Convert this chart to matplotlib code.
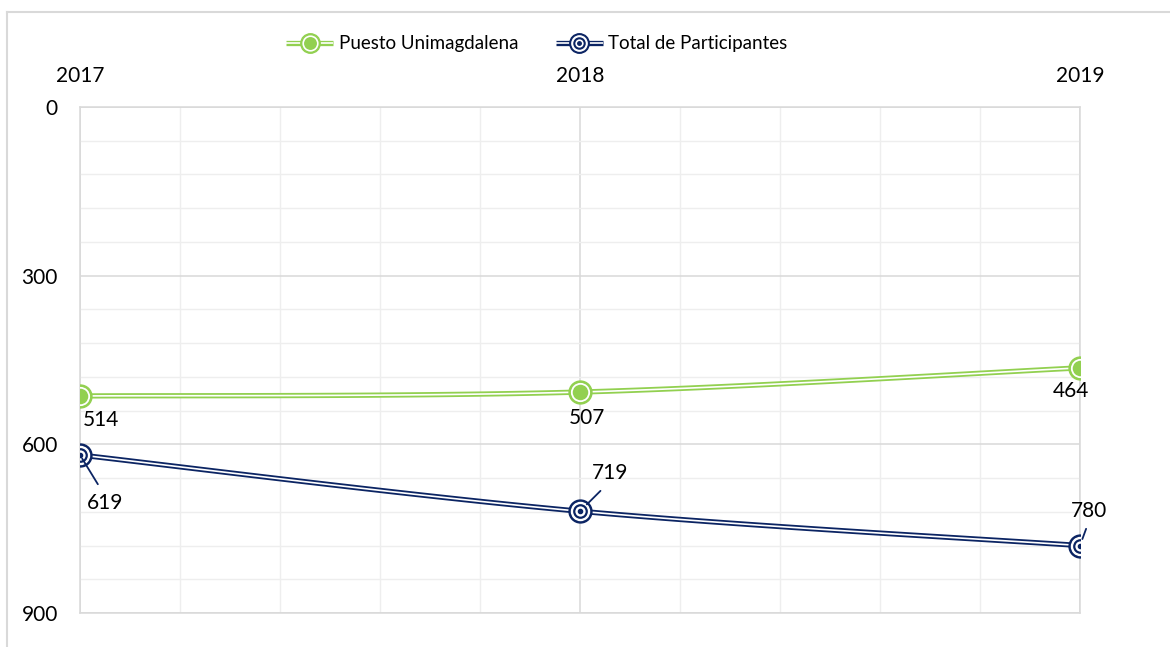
import numpy as np
import matplotlib
matplotlib.use('Agg')
import matplotlib.pyplot as plt
from matplotlib.lines import Line2D
from matplotlib.ticker import MultipleLocator
from matplotlib.legend_handler import HandlerTuple

years = ['2017', '2018', '2019']
puesto = [514, 507, 464]
total = [619, 719, 780]
series_names = ['Puesto Unimagdalena', 'Total de Participantes']

GREEN = '#92D050'
NAVY = '#0B2463'
GRID_MAJ = '#D9D9D9'
GRID_MIN = '#EEEEEE'
FS_LEG = 13.5
FS = 15

plt.rcParams['font.family'] = ['Lato', 'DejaVu Sans']
plt.rcParams['font.size'] = FS


def smooth(xs, ys, n=40):
    P = np.column_stack([xs, ys]).astype(float)
    m = len(P)
    t = np.linspace(0, 1, n)[1:, None]
    out = [P[0:1]]
    for i in range(m - 1):
        p0 = P[i - 1] if i > 0 else P[i]
        p1, p2 = P[i], P[i + 1]
        p3 = P[i + 2] if i + 2 < m else P[i + 1]
        c1 = p1 + (p2 - p0) / 6
        c2 = p2 - (p3 - p1) / 6
        seg = ((1 - t) ** 3) * p1 + 3 * ((1 - t) ** 2) * t * c1 + 3 * (1 - t) * t ** 2 * c2 + t ** 3 * p2
        out.append(seg)
    return np.vstack(out)


fig = plt.figure(figsize=(11.7, 6.47), dpi=100)
ax = fig.add_axes([80 / 1170, 1 - 613 / 647, 1000 / 1170, 506 / 647])

x = np.arange(len(years))

# double lines
for vals, col in [(puesto, GREEN), (total, NAVY)]:
    c = smooth(x, vals)
    ax.plot(c[:, 0], c[:, 1], color=col, lw=3.8, solid_capstyle='butt', zorder=3)
    ax.plot(c[:, 0], c[:, 1], color='white', lw=1.2, solid_capstyle='butt', zorder=3.1)

# markers
ax.plot(x, puesto, 'o', ls='none', ms=16.5, mfc=GREEN, mec=GREEN, zorder=4)
ax.plot(x, puesto, 'o', ls='none', ms=12.5, mfc=GREEN, mec='white', mew=1.3, zorder=4.1)

ax.plot(x, total, 'o', ls='none', ms=16.5, mfc=NAVY, mec=NAVY, zorder=4)
ax.plot(x, total, 'o', ls='none', ms=13, mfc='white', mec='white', zorder=4.1)
ax.plot(x, total, 'o', ls='none', ms=9, mfc='white', mec=NAVY, mew=1.6, zorder=4.2)
ax.plot(x, total, 'o', ls='none', ms=3, mfc=NAVY, mec=NAVY, zorder=4.3)

# data labels
green_off = [(15, -17), (5, -18.5), (-6.5, -16.6)]
for xi, v, off in zip(x, puesto, green_off):
    ax.annotate(str(v), (xi, v), xytext=off, textcoords='offset points',
                ha='center', va='center', fontsize=FS, color='black', zorder=6)

navy_off = [(18, -34.5), (21.6, 27.4), (6.5, 25)]
navy_rel = [(0.45, 1), (0.45, 0), (0.5, 0)]
navy_shrA = [5, 5, 4]
navy_shrB = [3, 7, 5]
for xi, v, off, rp, sa, sb in zip(x, total, navy_off, navy_rel, navy_shrA, navy_shrB):
    ax.annotate(str(v), (xi, v), xytext=off, textcoords='offset points',
                ha='center', va='center', fontsize=FS, color='black', zorder=6,
                arrowprops=dict(arrowstyle='-', color=NAVY, lw=1.3,
                                relpos=rp, shrinkA=sa, shrinkB=sb))

# axes
ax.set_xlim(0, 2)
ax.set_ylim(900, 0)
ax.xaxis.tick_top()
ax.set_xticks(x)
ax.set_xticklabels(years)
ax.xaxis.set_minor_locator(MultipleLocator(0.2))
ax.yaxis.set_major_locator(MultipleLocator(300))
ax.yaxis.set_minor_locator(MultipleLocator(60))
ax.tick_params(axis='x', which='both', length=0, pad=15, labelsize=FS, colors='black')
ax.tick_params(axis='y', which='both', length=0, pad=16, labelsize=FS, colors='black')
ax.grid(which='major', color=GRID_MAJ, lw=1.1)
ax.grid(which='minor', color=GRID_MIN, lw=1.0)
ax.set_axisbelow(True)
for s in ax.spines.values():
    s.set_color(GRID_MAJ)
    s.set_linewidth(1.1)

# outer chart border (cropped)
fig.add_artist(Line2D([7 / 1170, 7 / 1170], [0, 1 - 12 / 647], transform=fig.transFigure,
                      color='#D9D9D9', lw=1.5))
fig.add_artist(Line2D([7 / 1170, 1], [1 - 12 / 647, 1 - 12 / 647], transform=fig.transFigure,
                      color='#D9D9D9', lw=1.5))

# legend
hg = (Line2D([], [], color=GREEN, lw=3.8, solid_capstyle='butt'),
      Line2D([], [], color='white', lw=1.2, solid_capstyle='butt'),
      Line2D([], [], marker='o', ls='none', ms=14, mfc=GREEN, mec=GREEN),
      Line2D([], [], marker='o', ls='none', ms=10.5, mfc=GREEN, mec='white', mew=1.2))
hb = (Line2D([], [], color=NAVY, lw=3.8, solid_capstyle='butt'),
      Line2D([], [], color='white', lw=1.2, solid_capstyle='butt'),
      Line2D([], [], marker='o', ls='none', ms=14, mfc=NAVY, mec=NAVY),
      Line2D([], [], marker='o', ls='none', ms=11, mfc='white', mec='white'),
      Line2D([], [], marker='o', ls='none', ms=7.5, mfc='white', mec=NAVY, mew=1.5),
      Line2D([], [], marker='o', ls='none', ms=2.5, mfc=NAVY, mec=NAVY))
fig.legend(handles=[hg, hb], labels=series_names, loc='center',
           bbox_to_anchor=(537 / 1170, 1 - 44 / 647), ncol=2, frameon=False,
           handlelength=2.5, handletextpad=0.3, columnspacing=2.0, fontsize=FS_LEG,
           numpoints=1, handler_map={tuple: HandlerTuple(ndivide=1)})

fig.savefig('out.png', dpi=100, facecolor='white')
